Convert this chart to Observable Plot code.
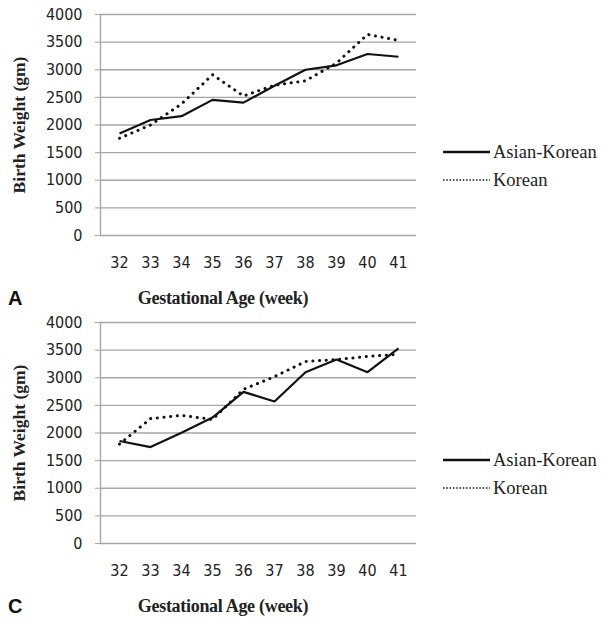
<!DOCTYPE html>
<html>
<head>
<meta charset="utf-8">
<script src="https://cdn.jsdelivr.net/npm/d3@7"></script>
<script src="https://cdn.jsdelivr.net/npm/@observablehq/plot@0.6"></script>
<style>
  html, body { margin: 0; padding: 0; background: #fff; }
  #fig { position: relative; width: 606px; height: 620px; overflow: hidden; }
  .panel { position: absolute; left: 0; width: 606px; height: 308px; }
  .panel svg.plot { position: absolute; left: 0; top: 0; }
  .ytitle { position: absolute; left: 19px; top: 125px; transform: translate(-50%, -50%) rotate(-90deg);
            font: bold 17.5px "Liberation Serif", serif; color: #222; white-space: nowrap; }
  .xtitle { position: absolute; left: 223px; top: 298px; transform: translate(-50%, -50%);
            font: bold 18px "Liberation Serif", serif; color: #222; white-space: nowrap; letter-spacing: -0.3px; }
  .letter { position: absolute; left: 8px; top: 298px; transform: translateY(-50%);
            font: bold 20px "Liberation Sans", Arial, sans-serif; color: #111; }
  .legend { position: absolute; left: 443px; top: 138px; font: 18.5px "Liberation Serif", serif; color: #222; }
  .legend .row { display: flex; align-items: center; height: 28px; }
  .legend svg { margin-right: 3px; }
</style>
</head>
<body>
<div id="fig"></div>
<script>
// ---- data ----
const weeks = [32, 33, 34, 35, 36, 37, 38, 39, 40, 41];
const series = ["Asian-Korean", "Korean"];
const yTicks = [0, 500, 1000, 1500, 2000, 2500, 3000, 3500, 4000];

const panelA_asianKorean = [1845, 2090, 2160, 2455, 2405, 2710, 3000, 3080, 3285, 3235];
const panelA_korean      = [1760, 2000, 2380, 2910, 2525, 2720, 2800, 3120, 3640, 3530];
const panelC_asianKorean = [1855, 1745, 2005, 2280, 2745, 2570, 3100, 3330, 3100, 3530];
const panelC_korean      = [1800, 2260, 2320, 2245, 2790, 3020, 3295, 3330, 3385, 3425];

const panels = [
  { letter: "A", top: 0, values: [panelA_asianKorean, panelA_korean] },
  { letter: "C", top: 308, values: [panelC_asianKorean, panelC_korean] }
];

const dashes = { "Asian-Korean": null, "Korean": "0.1 6.6" };
const widths = { "Asian-Korean": 2.2, "Korean": 3 };
const tickFont = "'DejaVu Sans Condensed', 'DejaVu Sans', sans-serif";

const fig = document.getElementById("fig");

for (const p of panels) {
  const rows = [];
  series.forEach((s, si) => weeks.forEach((w, i) => rows.push({ week: w, value: p.values[si][i], series: s })));

  const div = document.createElement("div");
  div.className = "panel";
  div.style.top = p.top + "px";

  const chart = Plot.plot({
    width: 430,
    height: 308,
    marginLeft: 100,
    marginRight: 14,
    marginTop: 14,
    marginBottom: 73,
    style: { background: "transparent", color: "#222" },
    x: { type: "point", domain: weeks, padding: 0.5 },
    y: { domain: [0, 4000] },
    marks: [
      Plot.gridY(yTicks, { stroke: "#a6a6a6", strokeOpacity: 1, strokeWidth: 1.4 }),
      Plot.frame({ anchor: "left", stroke: "#a6a6a6", strokeWidth: 1.4 }),
      Plot.axisY({ ticks: yTicks, tickFormat: d => String(d), tickSize: 5, tickPadding: 13, stroke: "#a6a6a6",
                   label: null, fontSize: 16, fontFamily: tickFont, fontStretch: "condensed" }),
      Plot.axisX({ ticks: weeks, tickFormat: d => String(d), tickSize: 0, tickPadding: 21, label: null,
                   fontSize: 16, fontFamily: tickFont, fontStretch: "condensed" }),
      ...series.map(s => Plot.line(rows.filter(d => d.series === s), {
        x: "week", y: "value", stroke: "#111", strokeWidth: widths[s],
        strokeDasharray: dashes[s], strokeLinecap: dashes[s] ? "round" : "butt", strokeLinejoin: "miter"
      }))
    ]
  });
  chart.classList.add("plot");
  div.appendChild(chart);

  const yt = document.createElement("div");
  yt.className = "ytitle"; yt.textContent = "Birth Weight (gm)";
  div.appendChild(yt);

  const xt = document.createElement("div");
  xt.className = "xtitle"; xt.textContent = "Gestational Age (week)";
  div.appendChild(xt);

  const lt = document.createElement("div");
  lt.className = "letter"; lt.textContent = p.letter;
  div.appendChild(lt);

  const lg = document.createElement("div");
  lg.className = "legend";
  series.forEach(s => {
    const row = document.createElement("div");
    row.className = "row";
    const dash = s === "Korean" ? 'stroke-dasharray="1.5 1.8" stroke-width="1.6"' : 'stroke-width="2.6"';
    row.innerHTML = `<svg width="47" height="8"><line x1="0" y1="4" x2="47" y2="4" stroke="#111" ${dash}/></svg>`;
    const t = document.createElement("span");
    t.textContent = s;
    row.appendChild(t);
    lg.appendChild(row);
  });
  div.appendChild(lg);

  fig.appendChild(div);
}
</script>
</body>
</html>
